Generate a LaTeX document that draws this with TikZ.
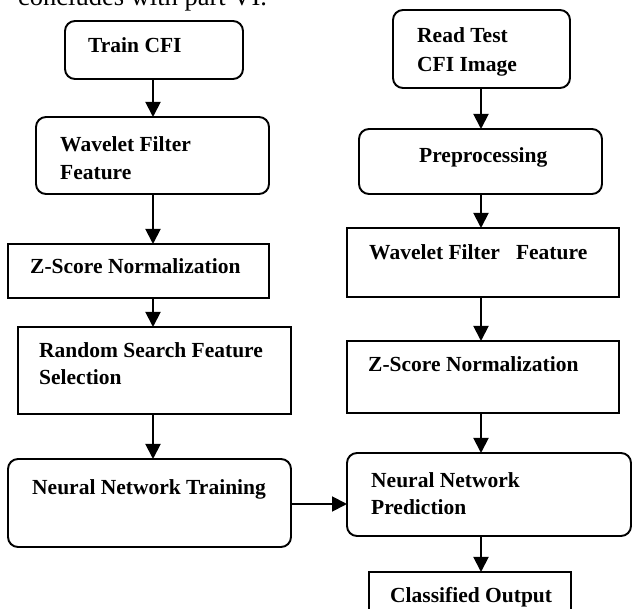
\documentclass[tikz,border=0pt]{standalone}
\usepackage{fontspec}
\setmainfont{Liberation Serif}
\usetikzlibrary{arrows.meta}
\begin{document}
\begin{tikzpicture}[x=1pt,y=-1pt,
 box/.style={draw, line width=1.9pt, inner sep=0pt, outer sep=0pt},
 rbox/.style={box, rounded corners=10pt},
 lbl/.style={font=\fontsize{21.5}{25}\selectfont\bfseries, inner sep=0pt, anchor=base west},
 arr/.style={line width=1.9pt, -{Triangle[length=15pt,width=15pt]}}]
\useasboundingbox (0,0) rectangle (633,609);
\clip (0,0) rectangle (633,609);
\node[font=\fontsize{26.5}{30}\selectfont, inner sep=0pt, anchor=base west] (top) at (18,6) {concludes with part VI.};
% left column
\node[rbox, minimum width=178pt, minimum height=58pt] (A) at (154,50) {};
\node[rbox, minimum width=233pt, minimum height=77pt] (B) at (152.5,155.5) {};
\node[box, minimum width=261pt, minimum height=54pt] (C) at (138.5,271) {};
\node[box, minimum width=273pt, minimum height=87pt] (D) at (154.5,370.5) {};
\node[rbox, minimum width=283pt, minimum height=88pt] (E) at (149.5,503) {};
% right column
\node[rbox, minimum width=177pt, minimum height=78pt] (F) at (481.5,49) {};
\node[rbox, minimum width=243pt, minimum height=65pt] (G) at (480.5,161.5) {};
\node[box, minimum width=272pt, minimum height=69pt] (H) at (483,262.5) {};
\node[box, minimum width=272pt, minimum height=72pt] (I) at (483,377) {};
\node[rbox, minimum width=284pt, minimum height=83pt] (J) at (489,494.5) {};
\node[box, minimum width=202pt, minimum height=53pt] (K) at (470,598.5) {};
% labels
\node[lbl] (tA) at (88,53) {Train CFI};
\node[lbl] (tB1) at (60,152) {Wavelet Filter};
\node[lbl] (tB2) at (60,180) {Feature};
\node[lbl] (tC) at (30,274) {Z-Score Normalization};
\node[lbl] (tD1) at (39,358) {Random Search Feature};
\node[lbl] (tD2) at (39,385) {Selection};
\node[lbl] (tE) at (32,495) {Neural Network Training};
\node[lbl] (tF1) at (417,43) {Read Test};
\node[lbl] (tF2) at (417,72) {CFI Image};
\node[lbl] (tG) at (419,163) {Preprocessing};
\node[lbl] (tH) at (369,260) {Wavelet Filter\ \ \ Feature};
\node[lbl] (tI) at (368,372) {Z-Score Normalization};
\node[lbl] (tJ1) at (371,488) {Neural Network};
\node[lbl] (tJ2) at (371,515) {Prediction};
\node[lbl] (tK) at (390,603) {Classified Output};
% connectors
\coordinate (xL) at (153,0);
\coordinate (xR) at (481,0);
\coordinate (hy) at (0,504);
\draw[arr] (A.south -| xL) -- (B.north -| xL);
\draw[arr] (B.south -| xL) -- (C.north -| xL);
\draw[arr] (C.south -| xL) -- (D.north -| xL);
\draw[arr] (D.south -| xL) -- (E.north -| xL);
\draw[arr] (F.south -| xR) -- (G.north -| xR);
\draw[arr] (G.south -| xR) -- (H.north -| xR);
\draw[arr] (H.south -| xR) -- (I.north -| xR);
\draw[arr] (I.south -| xR) -- (J.north -| xR);
\draw[arr] (J.south -| xR) -- (K.north -| xR);
\draw[arr] (E.east |- hy) -- (J.west |- hy);
\end{tikzpicture}
\end{document}
